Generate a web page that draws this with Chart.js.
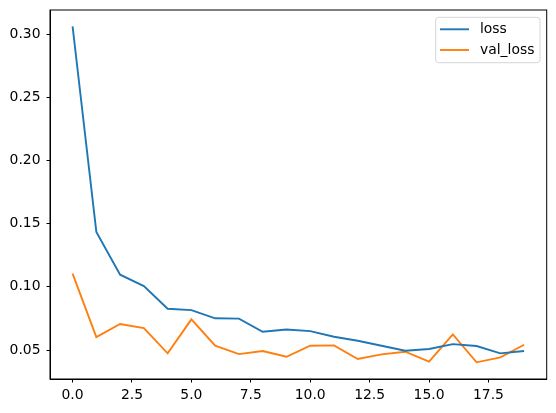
<!DOCTYPE html>
<html>
<head>
<meta charset="utf-8">
<script src="https://cdn.jsdelivr.net/npm/chart.js@4/dist/chart.umd.min.js"></script>
<style>
  html, body { margin: 0; padding: 0; background: #fff; }
  #wrap { width: 556px; height: 413px; }
</style>
</head>
<body>
<div id="wrap"><canvas id="c" width="556" height="413"></canvas></div>
<script>
// ---- data ----
const epochs = [0,1,2,3,4,5,6,7,8,9,10,11,12,13,14,15,16,17,18,19];
const lossValues = [0.306,0.1434,0.1096,0.1006,0.0827,0.0816,0.0751,0.0749,0.0645,0.0663,
                    0.0650,0.0605,0.0574,0.0534,0.0495,0.0508,0.0547,0.0532,0.0474,0.0492];
const valLossValues = [0.1104,0.0603,0.0706,0.0674,0.0474,0.0743,0.0534,0.0468,0.0492,0.0447,
                       0.0534,0.0537,0.0429,0.0466,0.0487,0.0408,0.0624,0.0403,0.0442,0.0542];
const seriesLabels = ['loss', 'val_loss'];
const xTickValues = [0, 2.5, 5, 7.5, 10, 12.5, 15, 17.5];
const yTickValues = [0.05, 0.10, 0.15, 0.20, 0.25, 0.30];

const FONT = 'DejaVu Sans';
const FSIZE = 13.9;
const colors = ['#1f77b4', '#ff7f0e'];

const framePlugin = {
  id: 'frame',
  afterDatasetsDraw(chart) {
    const {ctx, chartArea: a} = chart;
    ctx.save();
    ctx.strokeStyle = '#000';
    ctx.lineWidth = 1;
    ctx.strokeRect(a.left, a.top, a.right - a.left, a.bottom - a.top);
    ctx.restore();
  }
};

const legendPlugin = {
  id: 'mplLegend',
  afterDraw(chart) {
    const ctx = chart.ctx;
    const x0 = 435.7, y0 = 17.3, w = 104.3, h = 45.4, r = 3;
    ctx.save();
    ctx.beginPath();
    ctx.roundRect(x0, y0, w, h, r);
    ctx.fillStyle = 'rgba(255,255,255,0.8)';
    ctx.fill();
    ctx.strokeStyle = '#d6d6d6';
    ctx.lineWidth = 1;
    ctx.stroke();
    const ys = [29.3, 50.0];
    chart.data.datasets.forEach((ds, i) => {
      ctx.beginPath();
      ctx.moveTo(440, ys[i]);
      ctx.lineTo(469, ys[i]);
      ctx.strokeStyle = ds.borderColor;
      ctx.lineWidth = 1.9;
      ctx.stroke();
      ctx.fillStyle = '#000';
      ctx.font = FSIZE + 'px "' + FONT + '"';
      ctx.textBaseline = 'middle';
      ctx.textAlign = 'left';
      ctx.fillText(ds.label, 480, ys[i]);
    });
    ctx.restore();
  }
};

new Chart(document.getElementById('c'), {
  type: 'line',
  data: {
    datasets: [
      { label: seriesLabels[0], data: epochs.map((e, i) => ({x: e, y: lossValues[i]})),
        borderColor: colors[0], backgroundColor: colors[0], borderWidth: 1.9, pointRadius: 0, tension: 0 },
      { label: seriesLabels[1], data: epochs.map((e, i) => ({x: e, y: valLossValues[i]})),
        borderColor: colors[1], backgroundColor: colors[1], borderWidth: 1.9, pointRadius: 0, tension: 0 }
    ]
  },
  options: {
    responsive: false,
    animation: false,
    devicePixelRatio: 1,
    layout: { padding: { top: 10, right: 9.3, left: 0, bottom: 0 } },
    plugins: { legend: { display: false }, tooltip: { enabled: false } },
    scales: {
      x: {
        type: 'linear',
        min: -0.95, max: 19.95,
        afterBuildTicks: s => { s.ticks = xTickValues.map(v => ({value: v})); },
        afterFit: s => { s.height = 34; s.paddingLeft = 0; s.paddingRight = 0; },
        grid: { drawOnChartArea: false, drawTicks: true, tickLength: 3.5, tickColor: '#000', tickWidth: 1 },
        border: { display: true, color: '#000', width: 1 },
        ticks: { color: '#000', font: { family: FONT, size: FSIZE }, padding: 5,
                 maxRotation: 0, autoSkip: false,
                 callback: v => Number(v).toFixed(1) }
      },
      y: {
        type: 'linear',
        min: 0.0271, max: 0.319,
        afterBuildTicks: s => { s.ticks = yTickValues.map(v => ({value: v})); },
        afterFit: s => { s.width = 50; s.paddingTop = 0; s.paddingBottom = 0; },
        grid: { drawOnChartArea: false, drawTicks: true, tickLength: 3.5, tickColor: '#000', tickWidth: 1 },
        border: { display: true, color: '#000', width: 1 },
        ticks: { color: '#000', font: { family: FONT, size: FSIZE }, padding: 6, autoSkip: false,
                 callback: v => Number(v).toFixed(2) }
      }
    }
  },
  plugins: [framePlugin, legendPlugin]
});
</script>
</body>
</html>
